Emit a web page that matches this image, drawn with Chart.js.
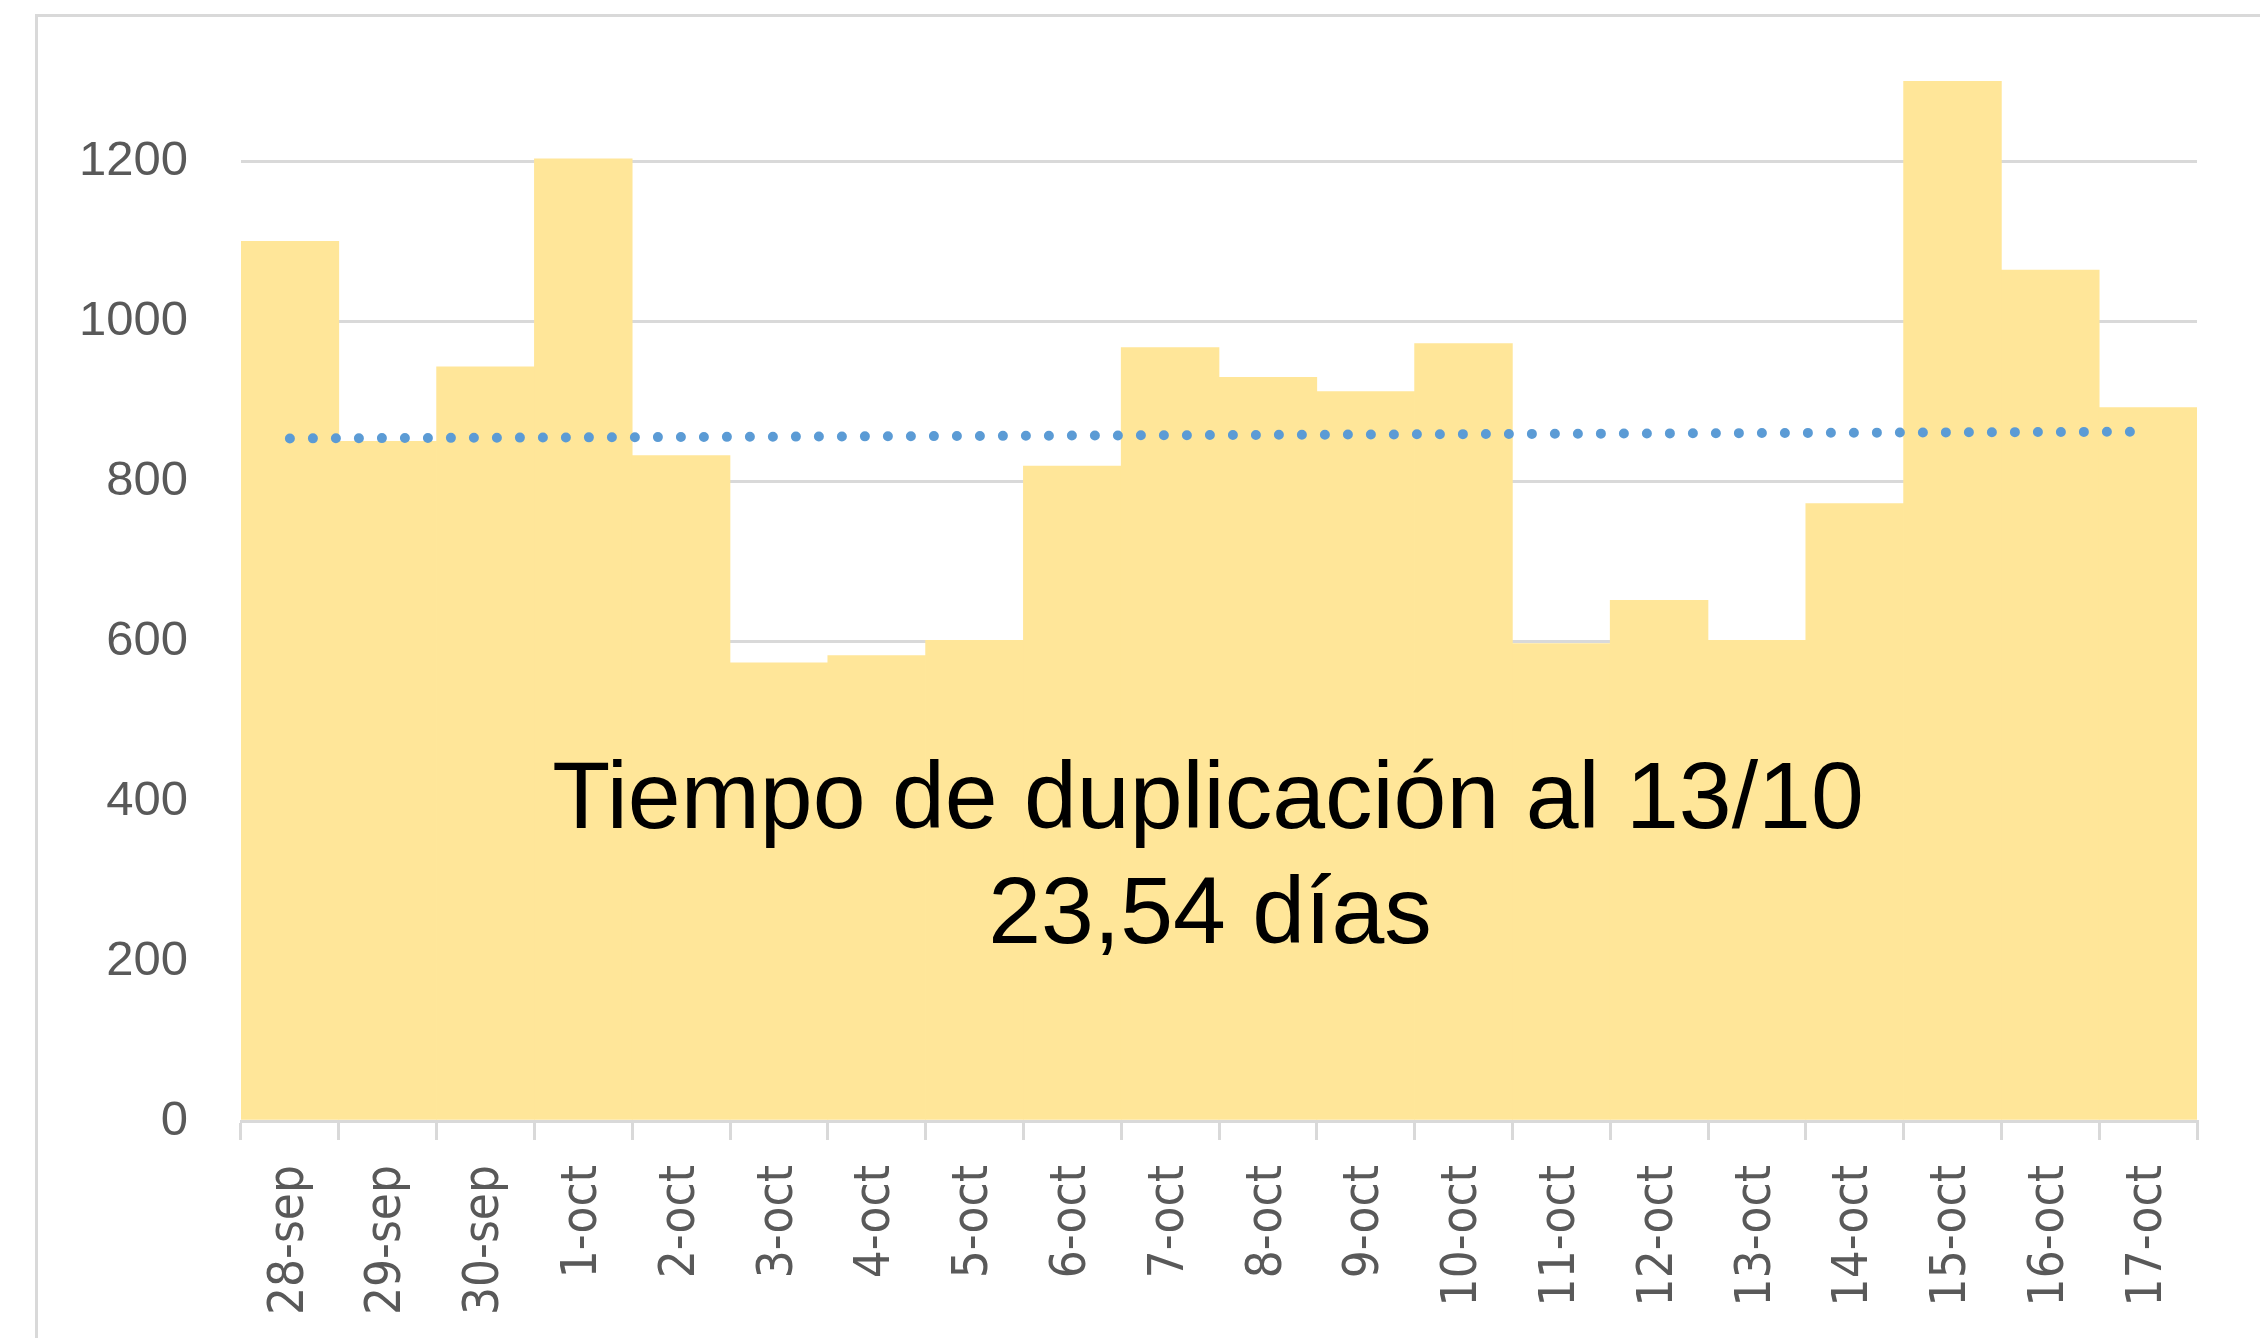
<!DOCTYPE html>
<html>
<head>
<meta charset="utf-8">
<script src="https://cdn.jsdelivr.net/npm/chart.js@4.4.1/dist/chart.umd.min.js"></script>
<style>
  html, body { margin: 0; padding: 0; background: #fff; }
  #wrap { position: relative; width: 2260px; height: 1338px; }
</style>
</head>
<body>
<div id="wrap"><canvas id="chart" width="2260" height="1338"></canvas></div>
<script>
// daily values
const fechas = ['28-sep', '29-sep', '30-sep', '1-oct', '2-oct', '3-oct', '4-oct', '5-oct', '6-oct', '7-oct',
  '8-oct', '9-oct', '10-oct', '11-oct', '12-oct', '13-oct', '14-oct', '15-oct', '16-oct', '17-oct'];
const casos = [1100, 850, 943, 1203, 832, 573, 582, 601, 819, 967,
  930, 912, 972, 597, 651, 601, 772, 1300, 1064, 892];

// linear trend line, ends only
const tendenciaFechas = ['28-sep', '17-oct'];
const tendenciaValores = [853.5, 862];

const yTicks = [0, 200, 400, 600, 800, 1000, 1200];
const nota = ['Tiempo de duplicación al 13/10', '23,54 días'];

const GRID = '#d9d9d9';
const TEXT = '#595959';

// outer chart frame (only left and top edges are in view)
const framePlugin = {
  id: 'frame',
  beforeDraw(chart) {
    const ctx = chart.ctx;
    ctx.save();
    ctx.strokeStyle = GRID;
    ctx.lineWidth = 3;
    ctx.beginPath();
    ctx.moveTo(36.5, 4000);
    ctx.lineTo(36.5, 15.5);
    ctx.lineTo(4000, 15.5);
    ctx.stroke();
    ctx.restore();
  }
};

const notePlugin = {
  id: 'nota',
  afterDatasetsDraw(chart) {
    const ctx = chart.ctx;
    ctx.save();
    ctx.fillStyle = '#000';
    ctx.font = '95px "Liberation Sans", Arial, sans-serif';
    ctx.textAlign = 'center';
    ctx.textBaseline = 'alphabetic';
    ctx.fillText(nota[0], 1208, 828);
    ctx.fillText(nota[1], 1210, 943);
    ctx.restore();
  }
};

const ctx = document.getElementById('chart').getContext('2d');
new Chart(ctx, {
  data: {
    labels: fechas,
    datasets: [
      {
        type: 'line',
        label: 'Lineal',
        data: tendenciaFechas.map((f, i) => ({ x: f, y: tendenciaValores[i] })),
        borderColor: '#5B9BD5',
        borderWidth: 10,
        borderDash: [0, 23],
        borderCapStyle: 'round',
        pointRadius: 0,
        fill: false,
        order: 0,
      },
      {
        type: 'bar',
        label: 'Casos',
        data: casos,
        backgroundColor: '#FFE699',
        borderWidth: 0,
        barPercentage: 1,
        categoryPercentage: 1,
        order: 1,
      },
    ],
  },
  options: {
    responsive: false,
    animation: false,
    devicePixelRatio: 1,
    layout: { padding: { top: 0, right: 63, bottom: 0, left: 0 } },
    plugins: {
      legend: { display: false },
      tooltip: { enabled: false },
    },
    scales: {
      x: {
        type: 'category',
        offset: true,
        afterFit: s => { s.height = 217; },
        grid: {
          offset: true,
          drawOnChartArea: false,
          drawTicks: true,
          tickLength: 19,
          color: GRID,
          lineWidth: 3,
        },
        border: { display: true, color: GRID, width: 3 },
        ticks: {
          autoSkip: false,
          minRotation: 90,
          maxRotation: 90,
          padding: 25,
          color: TEXT,
          font: { family: '"DejaVu Sans Condensed", "DejaVu Sans"', size: 49 },
        },
      },
      y: {
        min: 0,
        max: 1365,
        afterFit: s => { s.width = 241; },
        afterBuildTicks: s => { s.ticks = yTicks.map(v => ({ value: v })); },
        grid: { color: GRID, lineWidth: 3, drawTicks: true, tickLength: 53, tickColor: 'rgba(0,0,0,0)' },
        border: { display: false },
        ticks: {
          padding: 0,
          color: TEXT,
          font: { family: '"Liberation Sans", Arial, sans-serif', size: 49 },
          callback: v => String(v),
        },
      },
    },
  },
  plugins: [framePlugin, notePlugin],
});
</script>
</body>
</html>
